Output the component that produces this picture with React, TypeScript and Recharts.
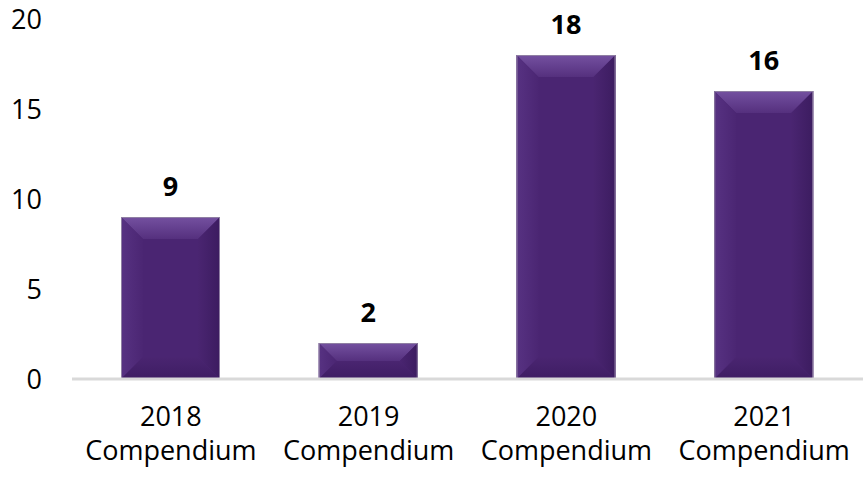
import React from 'react';
import { BarChart, Bar, XAxis, YAxis, LabelList } from 'recharts';

const years = ['2018', '2019', '2020', '2021'];
const suffix = 'Compendium';
const counts = [9, 2, 18, 16];
const yTicks = [0, 5, 10, 15, 20];

const data = years.map((y, i) => ({ name: y, value: counts[i] }));

const FONT = '"Open Sans", sans-serif';

const BevelBar = (props: any) => {
  const { x, y, width: w, height: h, index } = props;
  if (!h || h <= 0) return null;
  const b = Math.min(22, h / 2, w / 2);
  const id = `bv${index}`;
  return (
    <g>
      <defs>
        <linearGradient id={`${id}t`} x1="0" y1="0" x2="0" y2="1">
          <stop offset="0%" stopColor="#7451a0" />
          <stop offset="100%" stopColor="#55307e" />
        </linearGradient>
        <linearGradient id={`${id}l`} x1="0" y1="0" x2="1" y2="0">
          <stop offset="0%" stopColor="#573282" />
          <stop offset="100%" stopColor="#4b2673" />
        </linearGradient>
        <linearGradient id={`${id}r`} x1="0" y1="0" x2="1" y2="0">
          <stop offset="0%" stopColor="#4a2571" />
          <stop offset="100%" stopColor="#3c1c60" />
        </linearGradient>
        <linearGradient id={`${id}b`} x1="0" y1="0" x2="0" y2="1">
          <stop offset="0%" stopColor="#4a2571" />
          <stop offset="100%" stopColor="#3e1d63" />
        </linearGradient>
      </defs>
      <rect x={x} y={y} width={w} height={h} fill="#4a2572" />
      <polygon points={`${x},${y} ${x + w},${y} ${x + w - b},${y + b} ${x + b},${y + b}`} fill={`url(#${id}t)`} />
      <polygon points={`${x},${y} ${x + b},${y + b} ${x + b},${y + h - b} ${x},${y + h}`} fill={`url(#${id}l)`} />
      <polygon points={`${x + w},${y} ${x + w},${y + h} ${x + w - b},${y + h - b} ${x + w - b},${y + b}`} fill={`url(#${id}r)`} />
      <polygon points={`${x},${y + h} ${x + b},${y + h - b} ${x + w - b},${y + h - b} ${x + w},${y + h}`} fill={`url(#${id}b)`} />
      <rect x={x + 0.5} y={y + 0.5} width={w - 1} height={h - 1} fill="none" stroke="#8f7fa3" strokeWidth={1} />
    </g>
  );
};

const YTick = (props: any) => {
  const { y, payload } = props;
  return (
    <text x={42} y={y} dy="0.36em" textAnchor="end" fontFamily={FONT} fontSize={27} fill="#000">
      {payload.value}
    </text>
  );
};

// two separate lines under each bar: year, then "Compendium"
const XTick = (props: any) => {
  const { x, payload } = props;
  return (
    <g>
      <text x={x} y={426} textAnchor="middle" fontFamily={FONT} fontSize={27} fill="#000">
        {payload.value}
      </text>
      <text x={x} y={460} textAnchor="middle" fontFamily={FONT} fontSize={27} fill="#000">
        {suffix}
      </text>
    </g>
  );
};

const ValueLabel = (props: any) => {
  const { x, y, width, value } = props;
  return (
    <text x={x + width / 2} y={y - 21} textAnchor="middle" fontFamily={FONT} fontWeight="bold" fontSize={27} fill="#000">
      {value}
    </text>
  );
};

export default function App() {
  return (
    <div style={{ position: 'absolute', left: 0, top: 0, background: '#fff' }}>
      <BarChart width={863} height={478} data={data} margin={{ top: 19, right: 0, bottom: 0, left: 0 }}>
        <XAxis
          dataKey="name"
          height={99}
          axisLine={{ stroke: '#d9d9d9', strokeWidth: 3 }}
          tickLine={false}
          tick={<XTick />}
          interval={0}
        />
        <YAxis width={72} domain={[0, 20]} ticks={yTicks} axisLine={false} tickLine={false} tick={<YTick />} />
        <Bar dataKey="value" barSize={99} shape={<BevelBar />} isAnimationActive={false}>
          <LabelList dataKey="value" content={<ValueLabel />} />
        </Bar>
      </BarChart>
    </div>
  );
}
